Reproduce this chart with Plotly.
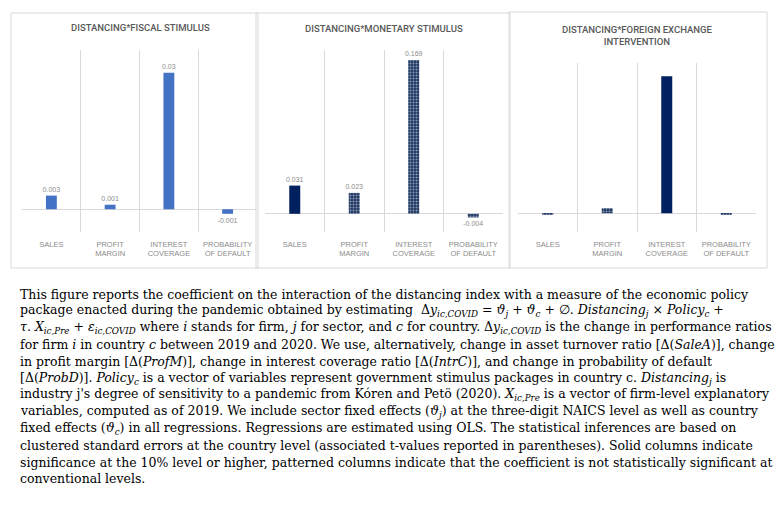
import plotly.graph_objects as go

W, H = 778, 509

tick_labels = ["SALES", "PROFIT<br>MARGIN", "INTEREST<br>COVERAGE", "PROBABILITY<br>OF DEFAULT"]
categories = ["Sales", "Profit margin", "Interest coverage", "Probability of default"]

fiscal_values = [0.003, 0.001, 0.03, -0.001]
fiscal_significant = [True, True, True, True]

monetary_values = [0.031, 0.023, 0.169, -0.004]
monetary_significant = [True, False, False, False]

fx_values = [-0.008, 0.027, 0.73, -0.008]
fx_significant = [False, False, True, False]

panel_titles = ["DISTANCING*FISCAL STIMULUS", "DISTANCING*MONETARY STIMULUS",
                "DISTANCING*FOREIGN EXCHANGE<br>INTERVENTION"]

caption_lines = [
    "This figure reports the coefficient on the interaction of the distancing index with a measure of the economic policy",
    "package enacted during the pandemic obtained by estimating  Δ<i>y<sub>ic,COVID</sub></i> = <i>ϑ<sub>j</sub></i> + <i>ϑ<sub>c</sub></i> + ∅. <i>Distancing<sub>j</sub></i> × <i>Policy<sub>c</sub></i> +",
    "<i>τ</i>. <i>X<sub>ic,Pre</sub></i> + <i>ε<sub>ic,COVID</sub></i> where <i>i</i> stands for firm, <i>j</i> for sector, and <i>c</i> for country. Δ<i>y<sub>ic,COVID</sub></i> is the change in performance ratios",
    "for firm <i>i</i> in country <i>c</i> between 2019 and 2020. We use, alternatively, change in asset turnover ratio [Δ(<i>SaleA</i>)], change",
    "in profit margin [Δ(<i>ProfM</i>)], change in interest coverage ratio [Δ(<i>IntrC</i>)], and change in probability of default",
    "[Δ(<i>ProbD</i>)]. <i>Policy<sub>c</sub></i> is a vector of variables represent government stimulus packages in country c. <i>Distancing<sub>j</sub></i> is",
    "industry j's degree of sensitivity to a pandemic from Kóren and Petö (2020). <i>X<sub>ic,Pre</sub></i> is a vector of firm-level explanatory",
    "variables, computed as of 2019. We include sector fixed effects (<i>ϑ<sub>j</sub></i>) at the three-digit NAICS level as well as country",
    "fixed effects (<i>ϑ<sub>c</sub></i>) in all regressions. Regressions are estimated using OLS. The statistical inferences are based on",
    "clustered standard errors at the country level (associated t-values reported in parentheses). Solid columns indicate",
    "significance at the 10% level or higher, patterned columns indicate that the coefficient is not statistically significant at",
    "conventional levels.",
]

def px_x(p):
    return p / W

def px_y(p):
    return 1 - p / H

GRID = "#D9D9D9"
LABEL = "#8C8C8C"
TITLE = "#595959"
NAVY = "#002060"
PATTERN_BG = "#1F3864"
BLUE = "#4472C4"

fig = go.Figure()

panels = [
    dict(values=fiscal_values, sig=fiscal_significant, color=BLUE, show_text=True,
         plot=(22, 257, 50, 232), rng=[-0.005, 0.035], border=(11, 258, 13, 268),
         title_xy=(140, 28)),
    dict(values=monetary_values, sig=monetary_significant, color=NAVY, show_text=True,
         plot=(265, 503, 50, 232), rng=[-0.02, 0.18], border=(256, 510, 13, 268),
         title_xy=(384, 29)),
    dict(values=fx_values, sig=fx_significant, color=NAVY, show_text=False,
         plot=(518, 756, 63, 232), rng=[-0.1, 0.8], border=(509, 767, 12, 268),
         title_xy=(637, 35)),
]

for i, p in enumerate(panels):
    n = "" if i == 0 else str(i + 1)
    shapes_pattern = ["" if s else "." for s in p["sig"]]
    fig.add_trace(go.Bar(
        x=categories, y=p["values"], width=0.185,
        xaxis="x" + n, yaxis="y" + n,
        marker=dict(color=p["color"], line=dict(width=0),
                    pattern=dict(shape=shapes_pattern, size=3, solidity=0.35,
                                 fgcolor="white", bgcolor=PATTERN_BG)),
        text=[str(v) for v in p["values"]] if p["show_text"] else None,
        textposition="outside", cliponaxis=False, constraintext="none",
        textfont=dict(family="Liberation Sans", size=7, color=LABEL),
        showlegend=False, hoverinfo="x+y",
    ))
    x0, x1, y0, y1 = p["plot"]
    fig.update_layout(**{
        "xaxis" + n: dict(domain=[px_x(x0), px_x(x1)], anchor="y" + n,
                          type="category", tickson="boundaries", showgrid=True,
                          gridcolor=GRID, gridwidth=1, ticks="", showline=False,
                          tickmode="array", tickvals=categories, ticktext=tick_labels,
                          tickfont=dict(family="Liberation Sans", size=7.5, color=LABEL),
                          ticklabelstandoff=6, zeroline=False, fixedrange=True),
        "yaxis" + n: dict(domain=[px_y(y1), px_y(y0)], anchor="x" + n,
                          range=p["rng"], showgrid=False, showticklabels=False,
                          zeroline=True, zerolinecolor=GRID, zerolinewidth=1,
                          fixedrange=True),
    })
    bx0, bx1, by0, by1 = p["border"]
    fig.add_shape(type="rect", xref="paper", yref="paper",
                  x0=px_x(bx0), x1=px_x(bx1), y0=px_y(by1), y1=px_y(by0),
                  line=dict(color=GRID, width=1), layer="below")
    tx, ty = p["title_xy"]
    fig.add_annotation(text=panel_titles[i], xref="paper", yref="paper",
                       x=px_x(tx), y=px_y(ty), xanchor="center", yanchor="middle",
                       showarrow=False,
                       font=dict(family="Roboto", size=9.5, color=TITLE, weight=500))

line_top = 294
line_step = 16.8
for k, line in enumerate(caption_lines):
    fig.add_annotation(text=line, xref="paper", yref="paper",
                       x=px_x(18), y=px_y(line_top + k * line_step),
                       xanchor="left", yanchor="middle", showarrow=False, align="left",
                       font=dict(family="DejaVu Serif", size=12.5, color="black"))

fig.update_layout(width=W, height=H, margin=dict(l=0, r=0, t=0, b=0),
                  paper_bgcolor="white", plot_bgcolor="white", bargap=0.8)

fig.write_html("out.html", config={"displayModeBar": False},
               post_script="document.body.style.margin='0';")
